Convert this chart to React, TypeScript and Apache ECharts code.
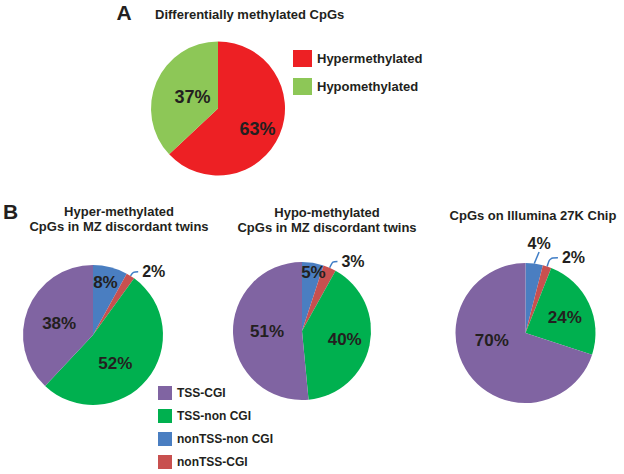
import React, { useEffect, useRef } from 'react';
import * as echarts from 'echarts';

// ---- data ----
const aNames = ['Hypermethylated', 'Hypomethylated'];
const aValues = [63, 37];

const bNames = ['nonTSS-non CGI', 'nonTSS-CGI', 'TSS-non CGI', 'TSS-CGI'];
const hyperValues = [8, 2, 52, 38];
const hypoValues = [5, 3, 40, 51];
const chipValues = [4, 2, 24, 70];
const bLegendOrder = ['TSS-CGI', 'TSS-non CGI', 'nonTSS-non CGI', 'nonTSS-CGI'];

const titleA = 'Differentially methylated CpGs';
const bTitles = [
  'Hyper-methylated\nCpGs in MZ discordant twins',
  'Hypo-methylated\nCpGs in MZ discordant twins',
  'CpGs on Illumina 27K Chip',
];

// ---- styles ----
const FONT = '"Liberation Sans", Arial, sans-serif';
const TXT = '#231F20';
const aColors = ['#ED2024', '#8DC757'];
const bColors = ['#4A7EC1', '#C8504F', '#00B04F', '#8064A2'];
const LINE = '#3F7DC6';

// label nudges (px) per pie, by data index
const aNudge: Record<number, [number, number]> = { 0: [6, 6], 1: [8, 3] };
const bNudge: Record<number, [number, number]>[] = [
  { 0: [3, -16], 2: [-7, 4], 3: [1.5, 2] },
  { 0: [5.5, -21], 2: [6, 1], 3: [2.5, -1.5] },
  { 0: [-11.5, -13.6], 2: [5, 1], 3: [-3, -15] },
];
// outside label line lengths per pie by data index
const bLines: Record<number, [number, number]>[] = [
  { 1: [5, 5] },
  { 1: [7, 5] },
  { 0: [6, 0], 1: [9, 8] },
];
const bCenters: [number, number][] = [[93, 335], [302, 331], [525.5, 333]];
const bRadius = [70, 69, 70];

function nudger(map: Record<number, [number, number]>) {
  return (p: any) => {
    const off = map[p.dataIndex];
    if (!off) return {};
    const r = p.labelRect;
    return {
      x: r.x + r.width / 2 + off[0],
      y: r.y + r.height / 2 + off[1],
      align: 'center',
      verticalAlign: 'middle',
    };
  };
}

export default function App() {
  const ref = useRef<HTMLDivElement>(null);
  useEffect(() => {
    if (!ref.current) return;
    const chart = echarts.init(ref.current, undefined, { renderer: 'svg' });

    const pieA = {
      type: 'pie',
      center: [218, 108.5],
      radius: 67,
      startAngle: 90,
      clockwise: true,
      avoidLabelOverlap: false,
      silent: true,
      label: {
        show: true,
        position: 'inside',
        formatter: '{c}%',
        fontFamily: FONT,
        fontWeight: 'bold',
        fontSize: 18,
        color: TXT,
      },
      labelLine: { show: false },
      labelLayout: nudger(aNudge),
      data: aNames.map((n, i) => ({
        name: n,
        value: aValues[i],
        itemStyle: { color: aColors[i] },
      })),
    };

    const bSeries = [hyperValues, hypoValues, chipValues].map((vals, s) => ({
      type: 'pie',
      center: bCenters[s],
      radius: bRadius[s],
      startAngle: 90,
      clockwise: true,
      avoidLabelOverlap: false,
      silent: true,
      label: {
        show: true,
        position: 'inside',
        formatter: '{c}%',
        fontFamily: FONT,
        fontWeight: 'bold',
        fontSize: 17,
        color: TXT,
      },
      labelLine: { show: false },
      labelLayout: nudger(bNudge[s]),
      data: bNames.map((n, i) => {
        const ln = bLines[s][i];
        const item: any = {
          name: n,
          value: vals[i],
          itemStyle: { color: bColors[i] },
        };
        if (ln) {
          item.label = { position: 'outside', fontSize: 16, distanceToLabelLine: 4 };
          item.labelLine = {
            show: true,
            length: ln[0],
            length2: ln[1],
            smooth: 0.3,
            lineStyle: { color: LINE, width: 1.5 },
          };
        }
        return item;
      }),
    }));

    const titleStyle = {
      fontFamily: FONT,
      fontWeight: 'bold',
      fontSize: 13,
      color: TXT,
      lineHeight: 15,
    };

    chart.setOption({
      animation: false,
      backgroundColor: '#ffffff',
      title: [
        {
          text: 'A',
          left: 124,
          top: 2,
          padding: 0,
          textAlign: 'center',
          textStyle: { fontFamily: FONT, fontWeight: 'bold', fontSize: 21, color: TXT, lineHeight: 20 },
        },
        {
          text: titleA,
          left: 155,
          top: 7,
          padding: 0,
          textStyle: { ...titleStyle, lineHeight: 14 },
        },
        {
          text: 'B',
          left: 3,
          top: 201,
          padding: 0,
          textStyle: { fontFamily: FONT, fontWeight: 'bold', fontSize: 21, color: TXT, lineHeight: 20 },
        },
        { text: bTitles[0], left: 119, top: 203.5, padding: 0, textAlign: 'center', textStyle: titleStyle },
        { text: bTitles[1], left: 327, top: 204.5, padding: 0, textAlign: 'center', textStyle: titleStyle },
        { text: bTitles[2], left: 533, top: 207.5, padding: 0, textAlign: 'center', textStyle: titleStyle },
      ],
      legend: [
        {
          data: aNames,
          orient: 'vertical',
          left: 293,
          top: 50,
          padding: 0,
          itemWidth: 19,
          itemHeight: 17,
          itemGap: 11,
          icon: 'rect',
          selectedMode: false,
          textStyle: { fontFamily: FONT, fontWeight: 'bold', fontSize: 13, color: TXT },
        },
        {
          data: bLegendOrder,
          orient: 'vertical',
          left: 158,
          top: 386,
          padding: 0,
          itemWidth: 14,
          itemHeight: 14,
          itemGap: 9,
          icon: 'rect',
          selectedMode: false,
          textStyle: { fontFamily: FONT, fontWeight: 'bold', fontSize: 12, color: TXT },
        },
      ],
      series: [pieA, ...bSeries],
    });

    return () => chart.dispose();
  }, []);

  return (
    <div
      ref={ref}
      style={{ position: 'absolute', left: 0, top: 0, width: 624, height: 474 }}
    />
  );
}
